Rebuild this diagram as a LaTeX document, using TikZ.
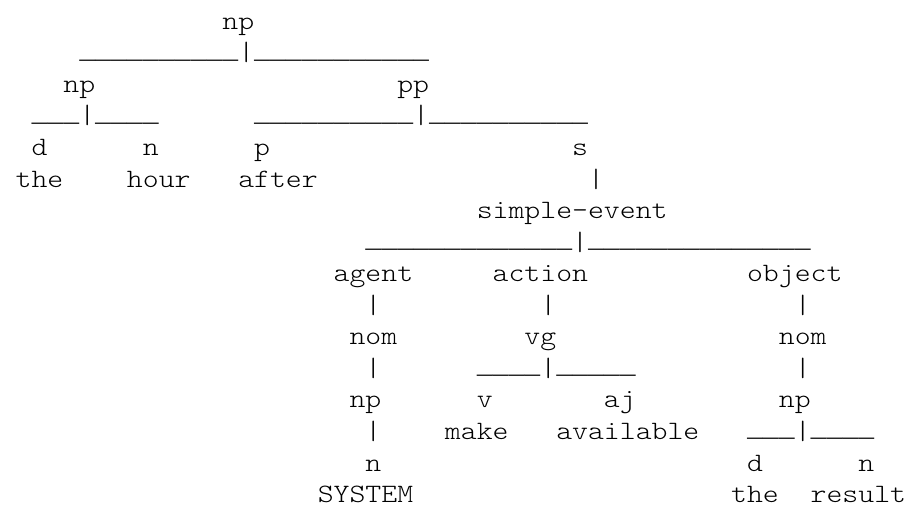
\documentclass[tikz,border=0pt]{standalone}
\usepackage{fontspec}
\newfontfamily\courlike[FakeStretch=1.1429]{lmmonolt10-regular.otf}
\newfontfamily\libmono{Liberation Mono}
\tikzset{
  asc/.style={font=\courlike\fontsize{26.5}{31.55}\selectfont, anchor=base west,
              inner sep=0pt, outer sep=0pt, text=black}
}
% a run of underscores, set in a font whose underscore fills the whole cell
\newcommand\usc[1]{{\libmono\raisebox{2.5pt}{#1}}}
% name, column, row, text
\newcommand\asciitok[4]{\node[asc] (#1) at ({15.65+#2*15.9},{-(29.3+(#3-1)*31.55)}) {#4};}
\begin{document}
\begin{tikzpicture}[x=1pt,y=1pt]
\path[use as bounding box, fill=white] (0,0) rectangle (908,-508);
% row 1-2
\asciitok{npTop}{13}{1}{np}
\asciitok{barTop}{4}{2}{\usc{\_\_\_\_\_\_\_\_\_\_}|\usc{\_\_\_\_\_\_\_\_\_\_\_}}
% row 3-4
\asciitok{npL}{3}{3}{np}
\asciitok{pp}{24}{3}{pp}
\asciitok{barNpL}{1}{4}{\usc{\_\_\_}|\usc{\_\_\_\_}}
\asciitok{barPp}{15}{4}{\usc{\_\_\_\_\_\_\_\_\_\_}|\usc{\_\_\_\_\_\_\_\_\_\_}}
% row 5-6
\asciitok{dL}{1}{5}{d}
\asciitok{nL}{8}{5}{n}
\asciitok{pL}{15}{5}{p}
\asciitok{sS}{35}{5}{s}
\asciitok{wThe}{0}{6}{the}
\asciitok{wHour}{7}{6}{hour}
\asciitok{wAfter}{14}{6}{after}
\asciitok{barS}{36}{6}{|}
% row 7-8
\asciitok{sev}{29}{7}{simple-event}
\asciitok{barSev}{22}{8}{\usc{\_\_\_\_\_\_\_\_\_\_\_\_\_}|\usc{\_\_\_\_\_\_\_\_\_\_\_\_\_\_}}
% row 9-10
\asciitok{agent}{20}{9}{agent}
\asciitok{action}{30}{9}{action}
\asciitok{object}{46}{9}{object}
\asciitok{barAg}{22}{10}{|}
\asciitok{barAc}{33}{10}{|}
\asciitok{barOb}{49}{10}{|}
% row 11-12
\asciitok{nomA}{21}{11}{nom}
\asciitok{vg}{32}{11}{vg}
\asciitok{nomO}{48}{11}{nom}
\asciitok{barNomA}{22}{12}{|}
\asciitok{barVg}{29}{12}{\usc{\_\_\_\_}|\usc{\_\_\_\_\_}}
\asciitok{barNomO}{49}{12}{|}
% row 13-14
\asciitok{npA}{21}{13}{np}
\asciitok{vV}{29}{13}{v}
\asciitok{aj}{37}{13}{aj}
\asciitok{npO}{48}{13}{np}
\asciitok{barNpA}{22}{14}{|}
\asciitok{wMake}{27}{14}{make}
\asciitok{wAvail}{34}{14}{available}
\asciitok{barNpO}{46}{14}{\usc{\_\_\_}|\usc{\_\_\_\_}}
% row 15-16
\asciitok{nA}{22}{15}{n}
\asciitok{dO}{46}{15}{d}
\asciitok{nO}{53}{15}{n}
\asciitok{wSystem}{19}{16}{SYSTEM}
\asciitok{wThe2}{45}{16}{the}
\asciitok{wResult}{50}{16}{result}
\end{tikzpicture}
\end{document}
